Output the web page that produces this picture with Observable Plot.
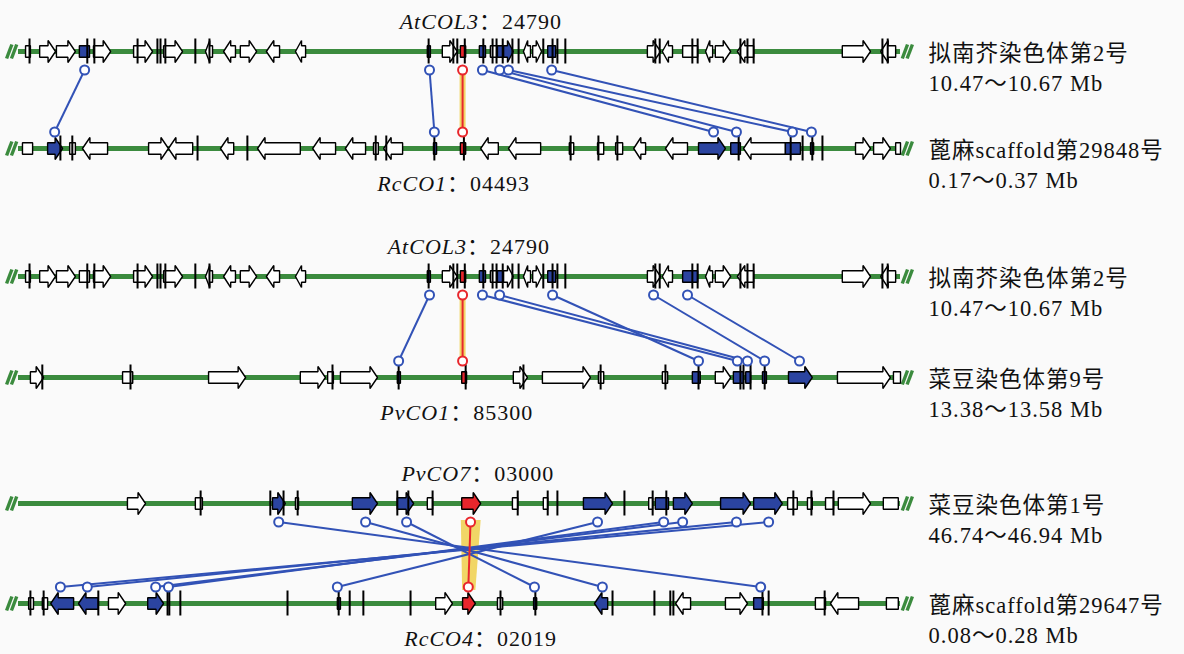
<!DOCTYPE html>
<html><head><meta charset="utf-8">
<script src="https://cdn.jsdelivr.net/npm/d3@7"></script>
<script src="https://cdn.jsdelivr.net/npm/@observablehq/plot@0.6"></script>
<style>
html,body{margin:0;padding:0;background:#fafafa;}
#chart{width:1184px;height:654px;}
</style></head><body><div id="chart"></div>
<script>
// ---- data (positions in kb within each 200 kb window) ----
const trackNames = ["拟南芥染色体第2号","蓖麻scaffold第29848号","拟南芥染色体第2号","菜豆染色体第9号","菜豆染色体第1号","蓖麻scaffold第29647号"];
const trackRanges = ["10.47～10.67 Mb","0.17～0.37 Mb","10.47～10.67 Mb","13.38～13.58 Mb","46.74～46.94 Mb","0.08～0.28 Mb"];
const trackRows = [0.51, 1.48, 2.76, 3.77, 5.03, 6.03];

const geneLabelNames = ["AtCOL3","RcCO1","AtCOL3","PvCO1","PvCO7","RcCO4"];
const geneLabelIds = ["24790","04493","24790","85300","03000","02019"];

// [start, end, strand, colour: w white, b blue, r red]
const genesT1 = [[1.6,2.7,".","w"],[4.8,8.4,"+","w"],[8.6,12.9,"+","w"],[13.8,16.1,".","b"],[17.0,20.9,"+","w"],[26.1,30.4,"+","w"],[32.9,37.2,"+","w"],[42.4,44.0,"-","w"],[46.5,49.2,"-","w"],[50.3,54.0,"+","w"],[56.2,59.2,"-","w"],[62.8,65.1,"-","w"],[92.7,93.4,".","b"],[96.1,99.5,"+","w"],[100.2,101.4,".","r"],[104.5,105.9,".","b"],[107.0,108.6,".","w"],[108.6,110.0,".","b"],[110.0,112.2,"+","b"],[114.5,116.1,"-","w"],[116.6,118.6,"+","w"],[120.0,121.8,".","b"],[142.6,145.6,"+","w"],[146.0,148.3,"-","w"],[150.6,154.0,".","w"],[155.8,157.4,"-","w"],[158.0,161.5,"+","w"],[163.0,166.7,"-","w"],[186.8,193.2,"+","w"],[195.5,198.9,"-","w"]];
const ticksT1 = [2.5,15.6,17.2,27.0,31.5,32.2,33.3,40.1,43.3,93.0,98.6,99.5,101.2,105.4,107.5,108.4,109.8,112.0,113.4,119.0,121.1,122.2,124.0,144.4,145.4,152.8,154.0,163.7,165.3,166.7,195.9,197.1];

const genesT2 = [[0.9,3.2,".","w"],[6.6,10.0,"+","b"],[11.6,12.9,".","w"],[14.5,20.2,"-","w"],[29.5,34.0,"+","w"],[34.0,39.5,"-","w"],[45.8,48.8,"-","w"],[54.2,63.9,"-","w"],[66.7,71.9,"-","w"],[74.1,78.7,"-","w"],[80.5,81.6,".","w"],[82.8,87.1,"-","w"],[94.1,94.8,".","b"],[100.2,101.4,".","r"],[104.8,108.8,"-","w"],[111.1,118.4,"-","w"],[124.9,125.9,".","w"],[131.3,132.7,".","w"],[135.4,137.0,".","w"],[139.5,142.2,"-","w"],[146.7,151.7,"-","w"],[154.2,160.3,"+","b"],[161.5,163.7,".","b"],[164.4,173.9,"-","w"],[173.9,177.3,".","b"],[179.6,180.3,".","b"],[189.8,193.2,"+","w"],[193.9,197.7,"+","w"],[198.9,200.0,".","w"]];
const ticksT2 = [9.5,12.2,40.6,51.9,81.0,83.4,94.3,101.0,125.2,131.5,135.8,163.3,175.1,177.8,180.0,182.3];

const genesT3 = [[1.6,2.7,".","w"],[4.8,8.4,"+","w"],[8.6,12.9,"+","w"],[13.8,16.1,".","w"],[17.0,20.9,"+","w"],[26.1,30.4,"+","w"],[32.9,37.2,"+","w"],[42.4,44.0,"-","w"],[46.5,49.2,"-","w"],[50.3,54.0,"+","w"],[56.2,59.2,"-","w"],[62.8,65.1,"-","w"],[92.7,93.4,".","b"],[96.1,99.5,"+","w"],[100.2,101.4,".","r"],[104.5,105.9,".","b"],[107.0,108.6,".","w"],[108.6,110.0,".","b"],[110.0,112.2,"+","w"],[114.5,116.1,"-","w"],[116.6,118.6,"+","w"],[120.0,121.8,".","b"],[142.6,145.6,"+","w"],[146.0,148.3,"-","w"],[150.6,154.0,".","b"],[155.8,157.4,"-","w"],[158.0,161.5,"+","w"],[163.0,166.7,"-","w"],[186.8,193.2,"+","w"],[195.5,198.9,"-","w"]];
const ticksT3 = ticksT1;

const genesT4 = [[2.7,5.7,"+","w"],[23.6,25.9,".","w"],[43.1,51.5,"+","w"],[63.9,69.6,"+","w"],[70.1,71.4,".","w"],[73.0,81.4,"+","w"],[85.9,86.6,".","b"],[100.5,101.6,".","r"],[112.2,115.4,"+","w"],[118.8,129.7,"+","w"],[131.5,132.7,".","w"],[146.0,147.2,".","w"],[152.8,154.6,".","b"],[158.0,161.5,"+","w"],[162.1,164.4,".","b"],[164.9,166.0,".","b"],[168.7,169.6,".","b"],[174.6,180.0,"+","b"],[185.7,197.7,"+","w"],[198.4,200.0,".","w"]];
const ticksT4 = [5.4,25.4,71.2,86.2,101.4,114.5,132.0,146.7,154.2,163.7,164.4,166.0,169.2];

const genesT5 = [[24.7,28.8,"+","w"],[40.1,41.7,".","w"],[57.6,60.5,"+","b"],[62.8,63.5,".","w"],[75.7,81.4,"+","b"],[85.9,89.6,"+","b"],[92.7,93.9,".","w"],[100.5,104.8,"+","r"],[112.0,113.2,".","w"],[119.0,120.0,".","w"],[128.1,134.7,"+","b"],[142.9,143.8,".","w"],[144.4,147.4,".","b"],[148.5,152.8,"+","b"],[159.2,166.0,"+","b"],[166.7,173.2,"+","b"],[174.4,176.6,".","w"],[178.9,180.0,".","w"],[183.0,184.8,".","w"],[185.9,193.2,"+","w"],[196.1,199.5,".","w"]];
const ticksT5 = [41.3,57.1,60.1,63.3,85.9,88.4,93.9,113.2,120.0,122.2,137.4,143.8,146.9,175.7,179.8,184.8];

const genesT6 = [[2.3,3.4,".","w"],[5.4,6.6,".","w"],[7.3,12.5,"-","b"],[13.6,18.1,"-","b"],[20.4,24.3,"+","w"],[29.3,32.9,"+","b"],[72.3,73.0,".","b"],[94.6,98.4,"+","w"],[100.7,103.6,"+","r"],[108.6,109.8,".","w"],[116.8,117.5,".","b"],[130.6,133.6,"-","b"],[149.0,152.4,"-","w"],[160.3,165.3,"+","w"],[166.7,168.9,".","b"],[180.7,183.0,".","w"],[184.1,190.5,"-","w"],[196.8,199.5,".","w"]];
const ticksT6 = [2.7,5.7,18.1,33.8,34.2,36.7,61.0,72.6,75.1,78.2,88.9,109.3,117.2,134.7,144.2,147.8,148.5,168.7,170.1,182.8];

// syntenic links [top kb, bottom kb]
const links1 = [[15.0,8.2],[93.2,94.3],[105.2,157.6],[109.1,162.8],[111.1,175.5],[120.9,179.8]];
const links2 = [[93.2,86.2],[105.2,163.0],[109.1,165.3],[121.1,154.2],[144.0,169.2],[151.7,177.1]];
const links3 = [[59.0,168.3],[78.7,132.4],[88.0,117.0],[131.3,72.3],[146.3,34.0],[150.6,31.1],[162.8,15.6],[170.1,9.5]];
const redLinks = [[100.7,100.7],[100.7,100.7],[102.5,102.0]];

// ---- build ----
const GREEN="#3b8b3e", BLUEF="#2b44a0", LBLUE="#3252b6", RED="#e8262c", YEL="#f1d666";
const colorMap = {w:"#ffffff", b:BLUEF, r:RED};
const genesAll = [genesT1,genesT2,genesT3,genesT4,genesT5,genesT6];
const ticksAll = [ticksT1,ticksT2,ticksT3,ticksT4,ticksT5,ticksT6];
const linksAll = [links1,links2,links3];

const polys = [];
genesAll.forEach((gs, t) => {
  const row = trackRows[t];
  gs.forEach((g, i) => {
    const [s,e,str,c] = g; const bh=0.058, hh=0.11; const h=Math.min(1.7,(e-s)*0.6);
    let pts;
    if (str==="+") pts=[[s,row-bh],[e-h,row-bh],[e-h,row-hh],[e,row],[e-h,row+hh],[e-h,row+bh],[s,row+bh]];
    else if (str==="-") pts=[[e,row-bh],[s+h,row-bh],[s+h,row-hh],[s,row],[s+h,row+hh],[s+h,row+bh],[e,row+bh]];
    else pts=[[s,row-bh],[e,row-bh],[e,row+bh],[s,row+bh]];
    pts.forEach(([x,y]) => polys.push({x, y, id: t+"-"+i, fill: colorMap[c]}));
  });
});
const ticks = ticksAll.flatMap((ts,t)=>ts.map(x=>({x, y1: trackRows[t]-0.125, y2: trackRows[t]+0.125})));
const tracks = trackRows.map((row,t)=>({row, start:0, end:200, name: trackNames[t], range: trackRanges[t]}));
const slashes = tracks.flatMap(d => [-2.7,-1.6,200.4,201.5].map(x=>({x1:x, x2:x+1.2, y1:d.row+0.07, y2:d.row-0.07})));

const TOP=0.185, BOT=0.165;
const links = linksAll.flatMap((ls,p)=>ls.map(([a,b])=>({x1:a, y1:trackRows[2*p]+TOP, x2:b, y2:trackRows[2*p+1]-BOT})));
const reds = redLinks.map(([a,b],p)=>({x1:a, y1:trackRows[2*p]+TOP, x2:b, y2:trackRows[2*p+1]-BOT}));
const linkCircles = links.flatMap(d=>[{x:d.x1,y:d.y1},{x:d.x2,y:d.y2}]);
const redCircles = reds.flatMap(d=>[{x:d.x1,y:d.y1},{x:d.x2,y:d.y2}]);
const yelLines = reds.slice(0,2);
const r3 = reds[2];
const yelPoly = [{x:r3.x1-2.2,y:r3.y1-0.02},{x:r3.x1+2.3,y:r3.y1-0.02},{x:r3.x2+1.6,y:r3.y2+0.03},{x:r3.x2-1.4,y:r3.y2+0.03}];

// gene labels at the red (CO) gene of each track
const redCenters = genesAll.map(gs=>{const g=gs.find(d=>d[3]==="r"); return (g[0]+g[1])/2;});
const labelShift = [16,-16,4,-14,0,5];
const FONT = "'Liberation Serif','Noto Sans CJK SC',serif";
const labelMarks = geneLabelNames.flatMap((nm,t)=>{
  const d=[{x:redCenters[t], y:trackRows[t]}];
  const dy = t%2===0 ? -30 : 35;
  return [
    Plot.text(d,{x:"x",y:"y",text:()=>nm,textAnchor:"end",dx:labelShift[t],dy,fontStyle:"italic",fontSize:22,fontFamily:FONT,fill:"#111"}),
    Plot.text(d,{x:"x",y:"y",text:()=>"："+geneLabelIds[t],textAnchor:"start",dx:labelShift[t],dy,fontSize:22,fontFamily:FONT,fill:"#111"})
  ];
});

const chart = Plot.plot({
  width:1184, height:654, margin:0,
  style:{background:"#fafafa", letterSpacing:"1px"},
  x:{domain:[0,200], range:[18,900], axis:null},
  y:{domain:[0,6.54], range:[0,654], axis:null},
  color:{type:"identity"},
  marks:[
    Plot.ruleY(tracks,{y:"row", x1:"start", x2:"end", stroke:GREEN, strokeWidth:5}),
    Plot.link(slashes,{x1:"x1",x2:"x2",y1:"y1",y2:"y2",stroke:GREEN,strokeWidth:3.4}),
    Plot.line(polys,{x:"x",y:"y",z:"id",fill:"fill",stroke:"#000",strokeWidth:1.4,curve:"linear-closed",strokeLinejoin:"miter"}),
    Plot.ruleX(ticks,{x:"x",y1:"y1",y2:"y2",stroke:"#000",strokeWidth:2}),
    Plot.link(yelLines,{x1:"x1",x2:"x2",y1:"y1",y2:"y2",stroke:YEL,strokeWidth:6}),
    Plot.line(yelPoly,{x:"x",y:"y",fill:YEL,stroke:"none",curve:"linear-closed"}),
    Plot.link(links,{x1:"x1",x2:"x2",y1:"y1",y2:"y2",stroke:LBLUE,strokeWidth:2}),
    Plot.link(reds,{x1:"x1",x2:"x2",y1:"y1",y2:"y2",stroke:RED,strokeWidth:2}),
    Plot.dot(linkCircles,{x:"x",y:"y",r:4.5,fill:"#fff",stroke:LBLUE,strokeWidth:2}),
    Plot.dot(redCircles,{x:"x",y:"y",r:4.5,fill:"#fff",stroke:RED,strokeWidth:2}),
    ...labelMarks,
    Plot.text(tracks,{x:"end",y:"row",text:d=>d.name+"\n"+d.range,textAnchor:"start",lineAnchor:"top",lineHeight:1.3,dx:28,dy:-11,fontSize:22.5,fontFamily:FONT,fill:"#111"})
  ]
});
document.getElementById("chart").appendChild(chart);
</script></body></html>
